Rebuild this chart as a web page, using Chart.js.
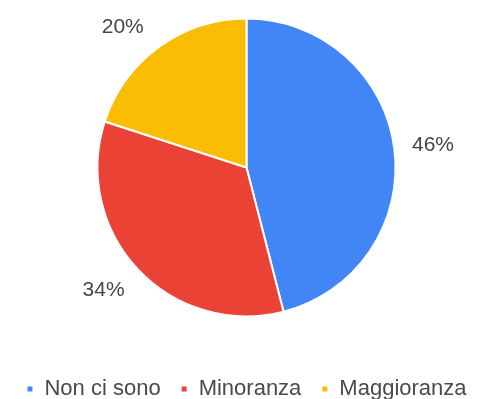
<!DOCTYPE html>
<html>
<head>
<meta charset="utf-8">
<script src="https://cdn.jsdelivr.net/npm/chart.js@4.4.1/dist/chart.umd.min.js"></script>
<style>
  html, body { margin: 0; padding: 0; background: #fff; }
  #wrap { width: 499px; height: 399px; }
</style>
</head>
<body>
<div id="wrap"><canvas id="pie" width="499" height="399"></canvas></div>
<script>
const categories = ['Non ci sono', 'Minoranza', 'Maggioranza'];
const shares = [46, 34, 20];
const sliceColors = ['#4285F4', '#EA4335', '#FBBC04'];

// percentage labels outside each slice, kept inside a vertical band
const outsideLabels = {
  id: 'outsideLabels',
  afterDatasetsDraw(chart) {
    const ctx = chart.ctx;
    const meta = chart.getDatasetMeta(0);
    const total = shares.reduce((a, b) => a + b, 0);
    ctx.save();
    ctx.font = '21px "Liberation Sans", Arial, sans-serif';
    ctx.fillStyle = '#454545';
    ctx.textAlign = 'center';
    ctx.textBaseline = 'middle';
    meta.data.forEach((arc, i) => {
      const r = arc.outerRadius;
      const mid = (arc.startAngle + arc.endAngle) / 2;
      const d = r + 39;
      let dy = Math.sin(mid) * d;
      dy = Math.max(-0.95 * r, Math.min(0.82 * r, dy));
      const dx = Math.sign(Math.cos(mid)) * Math.sqrt(Math.max(d * d - dy * dy, 0));
      const txt = Math.round(shares[i] / total * 100) + '%';
      ctx.fillText(txt, arc.x + dx, arc.y + dy + 1);
    });
    ctx.restore();
  }
};

new Chart(document.getElementById('pie'), {
  type: 'pie',
  data: {
    labels: categories,
    datasets: [{
      data: shares,
      backgroundColor: sliceColors,
      borderColor: '#ffffff',
      borderWidth: 2,
      hoverOffset: 0,
      radius: 149
    }]
  },
  options: {
    responsive: false,
    animation: false,
    layout: { padding: { top: 0, left: 0, right: 6, bottom: -11 } },
    plugins: {
      tooltip: { enabled: false },
      legend: {
        position: 'bottom',
        // empty title only keeps a gap between the pie and the legend row
        title: { display: true, text: '', padding: 0, font: { size: 23, lineHeight: 1 } },
        labels: {
          boxWidth: 7,
          boxHeight: 7,
          padding: 20,
          color: '#4a4a4a',
          font: { size: 22, family: '"Liberation Sans", Arial, sans-serif' }
        }
      }
    }
  },
  plugins: [outsideLabels]
});
</script>
</body>
</html>
